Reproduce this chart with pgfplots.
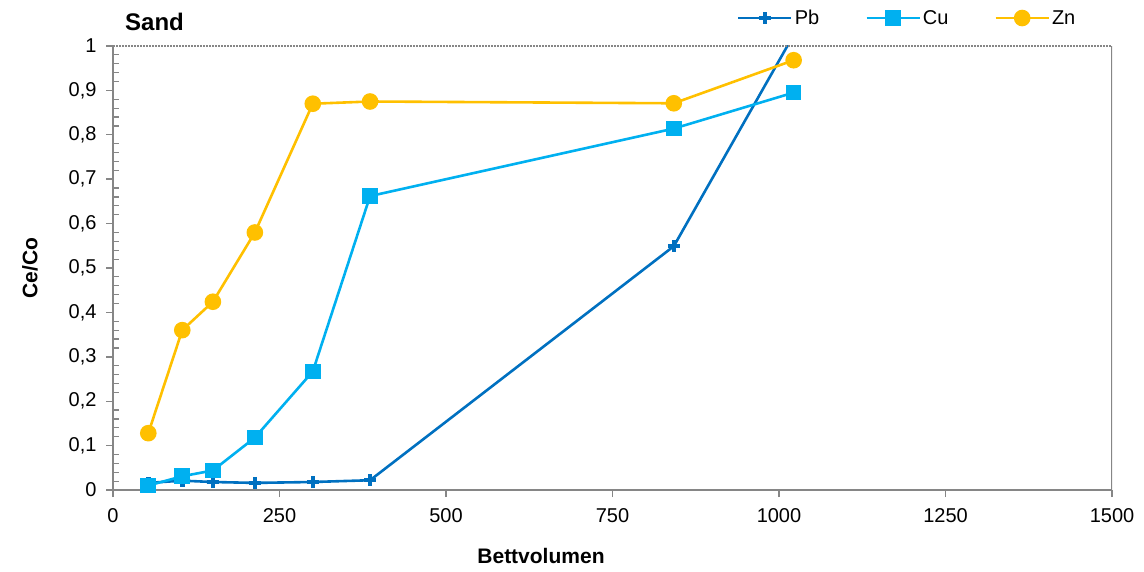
\documentclass[border=0pt]{standalone}
\usepackage{pgfplots}
\pgfplotsset{compat=1.18}
\usepackage{fontspec}
\setmainfont{Liberation Sans}
\definecolor{pbc}{RGB}{0,112,192}
\definecolor{cuc}{RGB}{0,176,240}
\definecolor{znc}{RGB}{255,192,0}
\definecolor{axc}{RGB}{134,134,134}
\begin{document}
\begin{tikzpicture}
\useasboundingbox (0,0) rectangle (1144pt,571pt);
\begin{axis}[
  at={(113pt,81pt)}, anchor=south west,
  scale only axis, width=999pt, height=444pt,
  xmin=0, xmax=1500, ymin=0, ymax=1,
  xtick={0,250,...,1500},
  ytick={0,0.1,...,1.0001},
  extra y ticks={0.02,0.04,0.06,0.08,0.12,0.14,0.16,0.18,0.22,0.24,0.26,0.28,0.32,0.34,0.36,0.38,0.42,0.44,0.46,0.48,0.52,0.54,0.56,0.58,0.62,0.64,0.66,0.68,0.72,0.74,0.76,0.78,0.82,0.84,0.86,0.88,0.92,0.94,0.96,0.98},
  extra y tick labels={},
  extra y tick style={tick align=inside, major tick length=6pt, tick style={line width=1.2pt}},
  axis x line*=bottom, axis y line*=left,
  axis line style={draw=axc, line width=1.6pt, -},
  tick style={draw=axc, line width=1.4pt},
  tick align=outside,
  major tick length=7pt,
  /pgf/number format/assume math mode=true,
  /pgf/number format/use comma,
  /pgf/number format/1000 sep={},
  yticklabel style={/pgf/number format/fixed, /pgf/number format/precision=1, font=\fontsize{20}{22}\selectfont, xshift=-6pt},
  xticklabel style={font=\fontsize{20}{22}\selectfont, yshift=-8pt},
  clip=true,
  legend columns=3,
  legend style={at={(0.6246,1.063)}, anchor=west, draw=none, fill=none,
    inner xsep=0pt, inner ysep=0pt, font=\fontsize{20}{22}\selectfont,
    /tikz/every even column/.append style={column sep=44pt}},
  legend image code/.code={\draw[mark repeat=2,mark phase=2,#1] plot coordinates {(0pt,0pt) (26.5pt,0pt) (53pt,0pt)};},
]
\addplot[pbc, line width=2.6pt, mark=+, mark size=6pt, mark options={line width=4.5pt}]
 coordinates {(53,0.016) (104,0.021) (150,0.018) (213,0.016) (300,0.018) (386,0.022) (842,0.549) (1022,1.025)};
\addlegendentry{Pb}
\addplot[cuc, line width=2.6pt, mark=square*, mark size=6.5pt, mark options={solid}]
 coordinates {(53,0.010) (104,0.031) (150,0.044) (213,0.118) (300,0.267) (386,0.662) (842,0.814) (1022,0.895)};
\addlegendentry{Cu}
\addplot[znc, line width=2.6pt, mark=*, mark size=7pt, mark options={solid}]
 coordinates {(53,0.128) (104,0.360) (150,0.424) (213,0.580) (300,0.870) (386,0.875) (842,0.871) (1022,0.968)};
\addlegendentry{Zn}
\draw[axc, line width=1.6pt, dash pattern=on 2pt off 1pt] (rel axis cs:0,1) -- (rel axis cs:1,1);
\draw[axc, line width=1.6pt] (rel axis cs:1,0) -- (rel axis cs:1,1);
\end{axis}
\node[anchor=west, font=\fontsize{24}{26}\selectfont\bfseries, inner sep=0pt] at (125pt,549pt) {Sand};
\node[rotate=90, font=\fontsize{21}{23}\selectfont\bfseries, inner sep=0pt] at (30pt,303pt) {Ce/Co};
\node[font=\fontsize{21}{23}\selectfont\bfseries, inner sep=0pt] at (541pt,15pt) {Bettvolumen};
\end{tikzpicture}
\end{document}
